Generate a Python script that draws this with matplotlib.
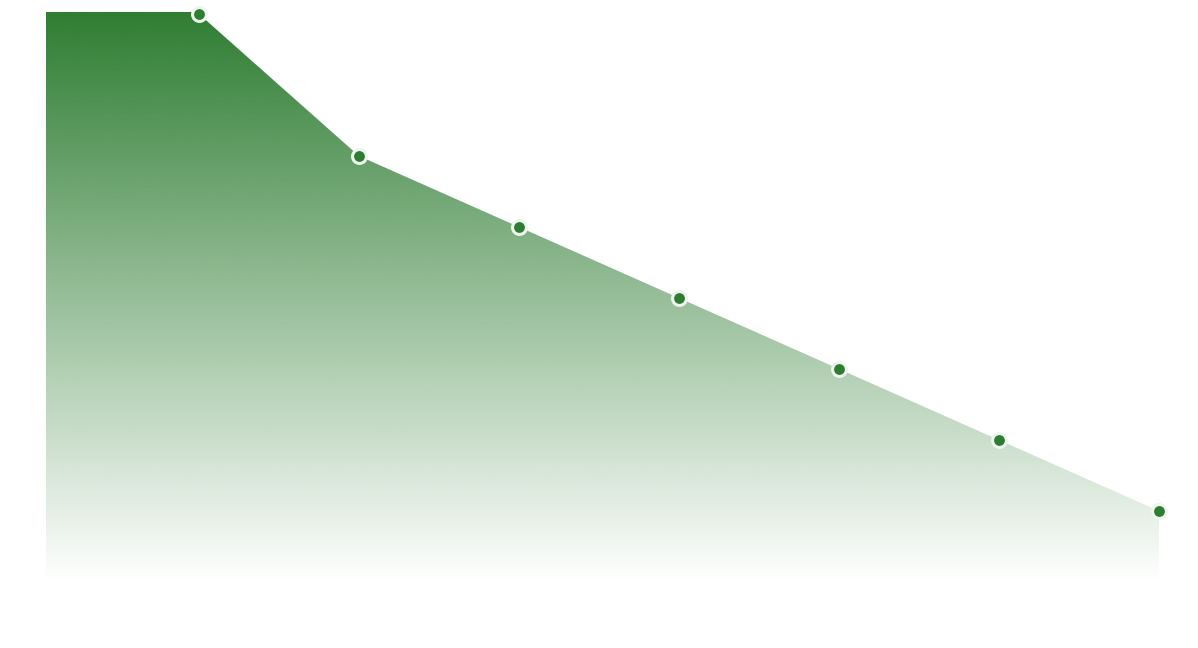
import numpy as np
import matplotlib
matplotlib.use("Agg")
import matplotlib.pyplot as plt
from matplotlib.colors import to_rgb

# data
x_idx = [0, 1, 2, 3, 4, 5, 6, 7]
values = [10, 8, 6, 5, 4, 3, 2, 1]
green = "#2e7d32"

W, H = 1198, 648
fig = plt.figure(figsize=(W / 100, H / 100), dpi=100)
left_px, right_px, top_px, bot_px = 46, 1159, 12, 582
ax = fig.add_axes([left_px / W, 1 - bot_px / H, (right_px - left_px) / W, (bot_px - top_px) / H])
ax.set_xlim((left_px - 39) / 160, 7)
ax.set_ylim(0, (582 - 12) / 71)
ax.axis("off")

poly = ax.fill_between(x_idx, values, 0, color="none", linewidth=0)
ymax = ax.get_ylim()[1]
n = 512
t = np.linspace(0, 1, n)  # 0 bottom -> 1 top
alpha = np.clip(t, 0, 1)
rgb = to_rgb(green)
img = np.zeros((n, 1, 4))
img[:, 0, 0] = rgb[0]
img[:, 0, 1] = rgb[1]
img[:, 0, 2] = rgb[2]
img[:, 0, 3] = alpha
im = ax.imshow(img, extent=[ax.get_xlim()[0], 7, 0, ymax], origin="lower",
               aspect="auto", interpolation="bilinear", zorder=1)
path = poly.get_paths()[0]
im.set_clip_path(path, ax.transData)

ax.plot(x_idx[1:], values[1:], linestyle="none", marker="o", markersize=10,
        markerfacecolor=green, markeredgecolor="#eef4ee", markeredgewidth=2.2,
        clip_on=False, zorder=3)

fig.savefig("out.png", dpi=100)
